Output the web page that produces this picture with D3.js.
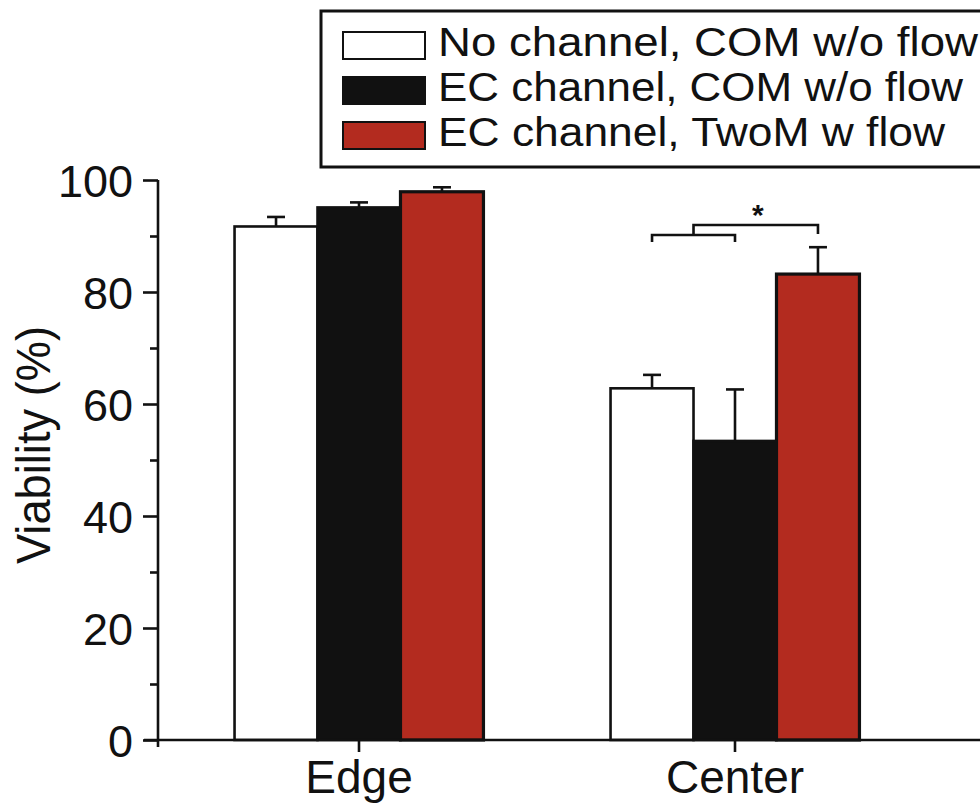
<!DOCTYPE html>
<html>
<head>
<meta charset="utf-8">
<script src="https://cdn.jsdelivr.net/npm/d3@7"></script>
<style>
  html, body { margin: 0; padding: 0; background: #fff; }
  svg { display: block; font-family: "Liberation Sans", Arial, Helvetica, sans-serif; }
</style>
</head>
<body>
<svg id="chart" width="980" height="804"></svg>
<script>
// ---- data ----
const categories = ["Edge", "Center"];
const seriesNames = ["No channel, COM w/o flow", "EC channel, COM w/o flow", "EC channel, TwoM w flow"];
const seriesColors = ["#ffffff", "#111111", "#b32b1f"];
const noChannelCOM = [91.7, 62.8];
const ecChannelCOM = [95.1, 53.4];
const ecChannelTwoM = [97.9, 83.2];
const noChannelCOMErr = [1.7, 2.4];
const ecChannelCOMErr = [0.9, 9.2];
const ecChannelTwoMErr = [0.8, 4.8];
const yMajorTicks = [0, 20, 40, 60, 80, 100];
const yMinorTicks = [10, 30, 50, 70, 90];
const yLabel = "Viability (%)";
const sigMark = "*";

const values = [noChannelCOM, ecChannelCOM, ecChannelTwoM];
const errors = [noChannelCOMErr, ecChannelCOMErr, ecChannelTwoMErr];

const svg = d3.select("#chart");

const y = d3.scaleLinear().domain([0, 100]).range([740, 180]);
const x0 = d3.scaleBand().domain(categories).range([171, 923]).paddingInner(0.338).paddingOuter(0.169);
const x1 = d3.scaleBand().domain(d3.range(seriesNames.length)).range([0, x0.bandwidth()]);

const lw = 2.6;

// bars
const groups = svg.append("g").selectAll("g")
  .data(categories).join("g")
  .attr("transform", d => `translate(${x0(d)},0)`);

groups.each(function(cat, ci) {
  const g = d3.select(this);
  seriesNames.forEach((s, si) => {
    const v = values[si][ci], e = errors[si][ci];
    const cx = x1(si) + x1.bandwidth() / 2;
    // error bar (upper only)
    g.append("line").attr("x1", cx).attr("x2", cx).attr("y1", y(v)).attr("y2", y(v + e))
      .attr("stroke", "#111").attr("stroke-width", lw);
    g.append("line").attr("x1", cx - 9).attr("x2", cx + 9).attr("y1", y(v + e)).attr("y2", y(v + e))
      .attr("stroke", "#111").attr("stroke-width", lw);
    g.append("rect")
      .attr("x", x1(si)).attr("width", x1.bandwidth())
      .attr("y", y(v)).attr("height", y(0) - y(v))
      .attr("fill", seriesColors[si]).attr("stroke", "#111")
      .attr("stroke-width", si === 2 ? 3.2 : lw);
  });
});

// y axis
const yAxis = svg.append("g").attr("transform", "translate(158,0)")
  .call(d3.axisLeft(y).tickValues(yMajorTicks).tickSize(15).tickPadding(10).tickFormat(d3.format("d")));
yAxis.select(".domain").remove();
yAxis.selectAll(".tick line").attr("stroke", "#111").attr("stroke-width", lw);
yAxis.selectAll(".tick text").attr("font-size", 45).attr("fill", "#111")
  .attr("font-family", "Liberation Sans, Arial, sans-serif").attr("dy", "0.36em");
const yMinor = svg.append("g").attr("transform", "translate(158,0)")
  .call(d3.axisLeft(y).tickValues(yMinorTicks).tickSize(8).tickFormat(""));
yMinor.select(".domain").remove();
yMinor.selectAll(".tick line").attr("stroke", "#111").attr("stroke-width", lw);
svg.append("line").attr("x1", 158).attr("x2", 158).attr("y1", y(100)).attr("y2", y(0) + 7)
  .attr("stroke", "#111").attr("stroke-width", lw);

// x axis
const xAxis = svg.append("g").attr("transform", `translate(0,${y(0)})`)
  .call(d3.axisBottom(x0).tickSize(12).tickPadding(8));
xAxis.select(".domain").remove();
xAxis.selectAll(".tick line").attr("stroke", "#111").attr("stroke-width", lw);
xAxis.selectAll(".tick text").attr("font-size", 46).attr("fill", "#111")
  .attr("font-family", "Liberation Sans, Arial, sans-serif").attr("dy", "0.71em");
svg.append("line").attr("x1", 144).attr("x2", 980).attr("y1", y(0)).attr("y2", y(0))
  .attr("stroke", "#111").attr("stroke-width", lw);

// y label
svg.append("text").attr("transform", `translate(50,445) rotate(-90)`)
  .attr("text-anchor", "middle").attr("font-size", 48).attr("fill", "#111")
  .attr("textLength", 238).attr("lengthAdjust", "spacingAndGlyphs").text(yLabel);

// significance bracket
const cCat = categories[1];
const cxOf = si => x0(cCat) + x1(si) + x1.bandwidth() / 2;
const lowY = 235, lowLeg = 242, topY = 225, rightLeg = 234;
const midX = (cxOf(0) + cxOf(1)) / 2;
const br = svg.append("g").attr("fill", "none").attr("stroke", "#111").attr("stroke-width", lw);
br.append("path").attr("d", `M${cxOf(0)},${lowLeg}V${lowY}H${cxOf(1)}V${lowLeg}`);
br.append("path").attr("d", `M${midX},${lowY}V${topY}H${cxOf(2)}V${rightLeg}`);
svg.append("text").attr("x", (midX + cxOf(2)) / 2 + 2).attr("y", 225)
  .attr("text-anchor", "middle").attr("font-size", 30).attr("font-weight", "bold")
  .attr("fill", "#111").text(sigMark);

// legend
const leg = svg.append("g");
leg.append("rect").attr("x", 321).attr("y", 11).attr("width", 700).attr("height", 156)
  .attr("fill", "#fff").attr("stroke", "#111").attr("stroke-width", 3);
const swTops = [32, 77, 122];
const textWidths = [540, 525, 507];
seriesNames.forEach((s, i) => {
  const top = swTops[i];
  leg.append("rect").attr("x", 343).attr("y", top).attr("width", 82).attr("height", 27)
    .attr("fill", seriesColors[i]).attr("stroke", "#111").attr("stroke-width", 2);
  leg.append("text").attr("x", 438).attr("y", top + 24).attr("font-size", 41)
    .attr("fill", "#111").attr("textLength", textWidths[i])
    .attr("lengthAdjust", "spacingAndGlyphs").text(s);
});
</script>
</body>
</html>
